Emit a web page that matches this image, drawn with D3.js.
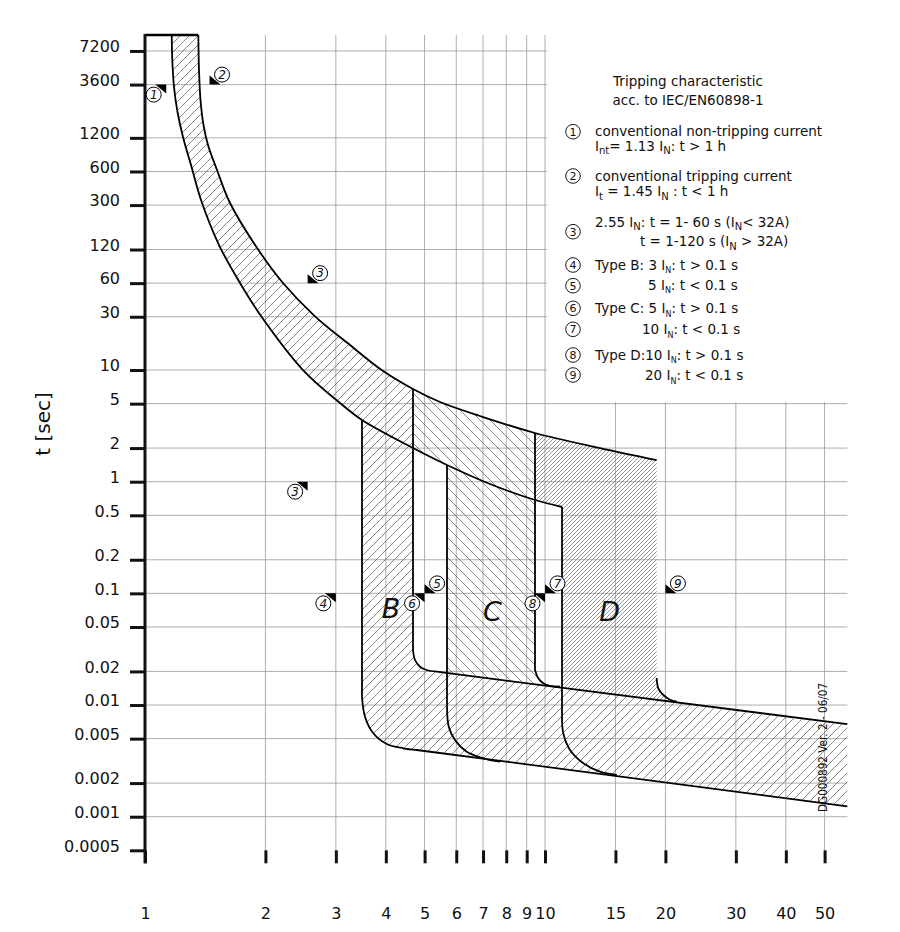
<!DOCTYPE html>
<html><head><meta charset="utf-8">
<script src="https://cdn.jsdelivr.net/npm/d3@7"></script>
<style>
body{margin:0;background:#fff}
svg{display:block}
text{font-family:"DejaVu Sans",sans-serif;fill:#111}
</style>
</head><body>
<svg id="c" width="900" height="932"></svg>
<script>
// ---------------- data ----------------
const xTicks = [1,2,3,4,5,6,7,8,9,10,15,20,30,40,50];
const yTicks = [7200,3600,1200,600,300,120,60,30,10,5,2,1,0.5,0.2,0.1,0.05,0.02,0.01,0.005,0.002,0.001,0.0005];
const xMax = 57;
const tMax = 10000;
// conventional tripping curve (upper thermal limit) [I/IN, t s]
const tripCurve = [[1.3593,10000],[1.3646,4862],[1.3764,2619],[1.4004,1564],[1.4371,1035],[1.5136,618.4],[1.6313,313.1],[1.9165,120.5],[2.2131,60.17],[2.6607,30.28],[3.2546,16.76],[3.9061,10.0],[4.6774,6.762],[5.4639,5.172],[6.8786,3.875],[9.4406,2.730],[13.725,2.003],[19.019,1.564]];
// conventional non-tripping curve (lower thermal limit)
const nonTripCurve = [[1.1662,10000],[1.1702,5974],[1.1817,3424],[1.2057,2045],[1.2445,1221],[1.3032,685.5],[1.3804,333.1],[1.5311,131.7],[1.7278,60.17],[1.9498,30.47],[2.4831,10.0],[3.0726,5.067],[3.4873,3.568],[4.6774,2.003],[5.6885,1.411],[7.2862,0.9537],[9.4406,0.6857],[11.029,0.5935]];
const types = ["B","C","D"];
const magLow = [3.4873, 5.6885, 11.029];
const magHigh = [4.6774, 9.4406, 19.019];
const bendLowB = [[3.4873,0.0118],[3.548,0.00786],[3.722,0.005583],[4.021,0.004478],[4.424,0.0041],[4.778,0.003957]];
const bendLowC = [[5.6885,0.00966],[5.746,0.006398],[5.957,0.004862],[6.372,0.003822],[7.013,0.003334],[7.718,0.003109]];
const bendLowD = [[11.029,0.00786],[11.11,0.005583],[11.55,0.003957],[12.47,0.003008],[13.72,0.002529],[15.11,0.002363]];
const bendUpB = [[4.6774,0.03112],[4.732,0.02531],[4.87,0.02205],[5.062,0.0206],[5.361,0.01989]];
const bendUpC = [[9.4406,0.0206],[9.622,0.01736],[9.903,0.01565],[10.29,0.01481],[10.9,0.0146]];
const bendUpD = [[19.019,0.01746],[19.2,0.01412],[19.76,0.0123],[20.54,0.01116],[21.35,0.01071]];
const instUpper = [[5.361,0.01989],[57,0.00674]];
const instLower = [[4.778,0.003957],[57,0.00124]];
const markerNum = ["1","2","3","3","4","5","6","7","8","9"];
const markerI = [1.13,1.45,2.55,2.55,3,5,5,10,10,20];
const markerT = [3600,3600,60,1,0.1,0.1,0.1,0.1,0.1,0.1];
const markerSide = ["ll","ur","ur","ll","ll","ur","ll","ur","ll","ur"];
const typeLabelI = [4.12, 7.39, 14.5];
const typeLabelT = [0.0596, 0.0566, 0.0569];
const legendTitle = ["Tripping characteristic","acc. to IEC/EN60898-1"];
const legendNums = ["1","2","3","4","5","6","7","8","9"];
const legendLines = [
  ["1","conventional non-tripping current",0],
  ["1","I_{nt}= 1.13 I_{N}: t > 1 h",0],
  ["2","conventional tripping current",0],
  ["2","I_{t} = 1.45 I_{N} : t < 1 h",0],
  ["3","2.55 I_{N}: t = 1- 60 s (I_{N}< 32A)",0],
  ["3","t = 1-120 s (I_{N} > 32A)",1],
  ["4","Type B: 3 I_{N}: t > 0.1 s",0],
  ["5","5 I_{N}: t < 0.1 s",2],
  ["6","Type C: 5 I_{N}: t > 0.1 s",0],
  ["7","10 I_{N}: t < 0.1 s",3],
  ["8","Type D:10 I_{N}: t > 0.1 s",0],
  ["9","20 I_{N}: t < 0.1 s",4]
];
const docId = "DG000892 Ver. 2 - 06/07";

// ---------------- drawing ----------------
const svg = d3.select("#c");
const x = d3.scaleLog().domain([1,10]).range([145,545]);
const y = d3.scaleLog().domain([1,0.001]).range([481.7,816.7]);
const tMinTick = yTicks[yTicks.length-1];

const defs = svg.append("defs");
function pattern(id, size, d, color, w){
  defs.append("pattern").attr("id",id).attr("patternUnits","userSpaceOnUse")
    .attr("width",size).attr("height",size)
    .append("path").attr("d",d).attr("stroke",color).attr("stroke-width",w).attr("fill","none");
}
pattern("hB", 9, "M-1,1 L1,-1 M0,9 L9,0 M8,10 L10,8", "#555", 0.7);
pattern("hC", 10, "M-1,9 L1,11 M0,0 L10,10 M9,-1 L11,1", "#555", 0.7);
pattern("hD", 4, "M-1,1 L1,-1 M0,4 L4,0 M3,5 L5,3", "#777", 0.75);

// grid
const grid = svg.append("g");
grid.selectAll("line.v").data(xTicks.slice(1)).join("line")
  .attr("x1",d=>x(d)).attr("x2",d=>x(d)).attr("y1",y(tMax)).attr("y2",y(tMinTick))
  .attr("stroke","#999").attr("stroke-width",0.8);
grid.selectAll("line.h").data(yTicks.slice(0,-1)).join("line")
  .attr("x1",x(1)).attr("x2",x(xMax)).attr("y1",d=>y(d)).attr("y2",d=>y(d))
  .attr("stroke","#999").attr("stroke-width",0.8);
// legend background
svg.append("rect").attr("x",x(10)+2).attr("y",0).attr("width",900).attr("height",y(5)-1.5).attr("fill","#fff");

// helpers
const P = d => [x(d[0]), y(d[1])];
const cat = d3.line().curve(d3.curveCatmullRom.alpha(0.5));
const lin = d3.line();
function part(pts, smooth){
  if (pts.length===1){ const p=P(pts[0]); return "M"+p[0]+","+p[1]; }
  return (smooth && pts.length>2 ? cat : lin)(pts.map(P));
}
function build(parts, close){
  const s = parts.map((p,i)=>{ const str=part(p.pts,p.smooth); return i ? "L"+str.slice(1) : str; }).join("");
  return close ? s+"Z" : s;
}
const between = (c,lo,hi)=>c.filter(d=>d[0]>=lo-1e-6 && d[0]<=hi+1e-6);
function interpT(c, I){
  for (let i=0;i<c.length-1;i++){
    if (I>=c[i][0]-1e-9 && I<=c[i+1][0]+1e-9){
      const f=(Math.log(I)-Math.log(c[i][0]))/(Math.log(c[i+1][0])-Math.log(c[i][0]));
      return Math.exp(Math.log(c[i][1])+f*(Math.log(c[i+1][1])-Math.log(c[i][1])));
    }
  }
  return c[c.length-1][1];
}
const onLine = (l,I)=>[I, interpT(l,I)];
const [bLow,cLow,dLow] = magLow, [bHigh,cHigh,dHigh] = magHigh;

// hatched regions
const fills = svg.append("g");
fills.append("path").attr("fill","url(#hD)").attr("d", build([
  {pts: between(tripCurve,cHigh,dHigh), smooth:true},
  {pts: bendUpD, smooth:true},
  {pts: [onLine(instUpper,dLow)]},
  {pts: between(nonTripCurve,cHigh,dLow).reverse(), smooth:true}
], true));
fills.append("path").attr("fill","url(#hC)").attr("d", build([
  {pts: between(tripCurve,bHigh,cHigh), smooth:true},
  {pts: bendUpC, smooth:true},
  {pts: [onLine(instUpper,cLow)]},
  {pts: between(nonTripCurve,bHigh,cLow).reverse(), smooth:true}
], true));
fills.append("path").attr("fill","url(#hB)").attr("d", build([
  {pts: between(nonTripCurve,0,bLow), smooth:true},
  {pts: bendLowB, smooth:true},
  {pts: [instLower[1], instUpper[1]]},
  {pts: bendUpB.slice().reverse(), smooth:true},
  {pts: between(tripCurve,0,bHigh).reverse(), smooth:true}
], true));

// black outlines
const lines = svg.append("g").attr("fill","none").attr("stroke","#000").attr("stroke-width",1.8);
lines.append("path").attr("d", part(tripCurve,true));
lines.append("path").attr("d", part(nonTripCurve,true));
lines.append("path").attr("d", build([{pts:[[bLow,interpT(nonTripCurve,bLow)]]},{pts:bendLowB,smooth:true},{pts:[instLower[1]]}]));
lines.append("path").attr("d", build([{pts:[[bHigh,interpT(tripCurve,bHigh)]]},{pts:bendUpB,smooth:true},{pts:[instUpper[1]]}]));
lines.append("path").attr("d", build([{pts:[[cLow,interpT(nonTripCurve,cLow)]]},{pts:bendLowC,smooth:true}]));
lines.append("path").attr("d", build([{pts:[[cHigh,interpT(tripCurve,cHigh)]]},{pts:bendUpC,smooth:true}]));
lines.append("path").attr("d", build([{pts:[[dLow,interpT(nonTripCurve,dLow)]]},{pts:bendLowD,smooth:true}]));
lines.append("path").attr("d", part(bendUpD,true));
// top frame
lines.append("line").attr("x1",x(1)).attr("x2",x(tripCurve[0][0])).attr("y1",y(tMax)).attr("y2",y(tMax)).attr("stroke-width",2.5);

// axes
const yAxis = d3.axisLeft(y).tickValues(yTicks).tickFormat(d=>String(d)).tickSize(15).tickPadding(10);
const gy = svg.append("g").attr("transform",`translate(${x(1)},0)`).call(yAxis);
gy.select(".domain").remove();
gy.selectAll(".tick line").attr("stroke","#111").attr("stroke-width",3);
gy.selectAll(".tick text").attr("font-size",16).attr("font-family","DejaVu Sans").attr("fill","#111").attr("dy","0.05em");

const xAxis = d3.axisBottom(x).tickValues(xTicks).tickFormat(d=>String(d)).tickSize(13).tickPadding(44);
const gx = svg.append("g").attr("transform",`translate(0,${y(tMinTick)})`).call(xAxis);
gx.select(".domain").remove();
gx.selectAll(".tick line").attr("stroke","#111").attr("stroke-width",3);
gx.selectAll(".tick text").attr("font-size",16).attr("font-family","DejaVu Sans").attr("fill","#111");

svg.append("line").attr("x1",x(1)).attr("x2",x(1)).attr("y1",y(tMax)-1).attr("y2",y(tMinTick)+13)
  .attr("stroke","#111").attr("stroke-width",3);

svg.append("text").attr("transform",`translate(50,424) rotate(-90)`).attr("text-anchor","middle")
  .attr("font-size",20).text("t [sec]");

// markers
const mk = svg.append("g");
markerNum.forEach((n,i)=>{
  const px = x(markerI[i]), py = y(markerT[i]);
  const s = markerSide[i]==="ur" ? 1 : -1;
  mk.append("path").attr("d",`M${px},${py}L${px},${py-9*s}L${px+11*s},${py}Z`).attr("fill","#000");
});
markerNum.forEach((n,i)=>{
  const px = x(markerI[i]), py = y(markerT[i]);
  const s = markerSide[i]==="ur" ? 1 : -1;
  const cx = px+12.5*s, cy = py-10*s;
  mk.append("circle").attr("cx",cx).attr("cy",cy).attr("r",7.5).attr("fill","#fff").attr("stroke","#000").attr("stroke-width",1);
  mk.append("text").attr("x",cx).attr("y",cy).attr("dy","0.36em").attr("text-anchor","middle")
    .attr("font-size",12).attr("font-style","italic").text(n);
});

// type letters
types.forEach((tp,i)=>{
  svg.append("text").attr("x",x(typeLabelI[i])).attr("y",y(typeLabelT[i])).attr("text-anchor","middle")
    .attr("font-size",27).attr("font-style","italic").text(tp);
});

// document id
svg.append("text").attr("transform",`translate(${x(50.7)},${y(0.00417)}) rotate(-90)`)
  .attr("text-anchor","middle").attr("font-size",12).attr("font-family","Liberation Sans")
  .attr("textLength",129).attr("lengthAdjust","spacingAndGlyphs").text(docId);

// legend
const lg = svg.append("g");
lg.append("text").attr("x",688).attr("y",86).attr("text-anchor","middle").attr("font-size",13.5).text(legendTitle[0]);
lg.append("text").attr("x",688).attr("y",105).attr("text-anchor","middle").attr("font-size",13.5).text(legendTitle[1]);
const circY = [131.7,176,231.7,265,285.7,308.3,329.3,355,375];
legendNums.forEach((n,i)=>{
  lg.append("circle").attr("cx",573).attr("cy",circY[i]).attr("r",7.3).attr("fill","#fff").attr("stroke","#000").attr("stroke-width",0.9);
  lg.append("text").attr("x",573).attr("y",circY[i]).attr("dy","0.36em").attr("text-anchor","middle").attr("font-size",11).text(n);
});
const lineY = [136,150.5,180.5,196,226.5,246,269.5,289.5,313,334,359.5,380];
const indentX = [595,640,648,642,645];
function rich(sel, str, subSize){
  const parts = str.split(/(_\{[^}]*\})/).filter(p=>p.length);
  let sub=false;
  parts.forEach(p=>{
    if (p.startsWith("_{")){
      sel.append("tspan").attr("font-size",subSize).attr("dy",sub?0:3.5).text(p.slice(2,-1));
      sub=true;
    } else {
      sel.append("tspan").attr("dy",sub?-3.5:0).text(p);
      sub=false;
    }
  });
}
legendLines.forEach((l,i)=>{
  const t = lg.append("text").attr("x",indentX[l[2]]).attr("y",lineY[i]).attr("font-size",13.5).attr("xml:space","preserve");
  rich(t, l[1], i>=6 ? 8 : 10);
});
</script>
</body></html>
